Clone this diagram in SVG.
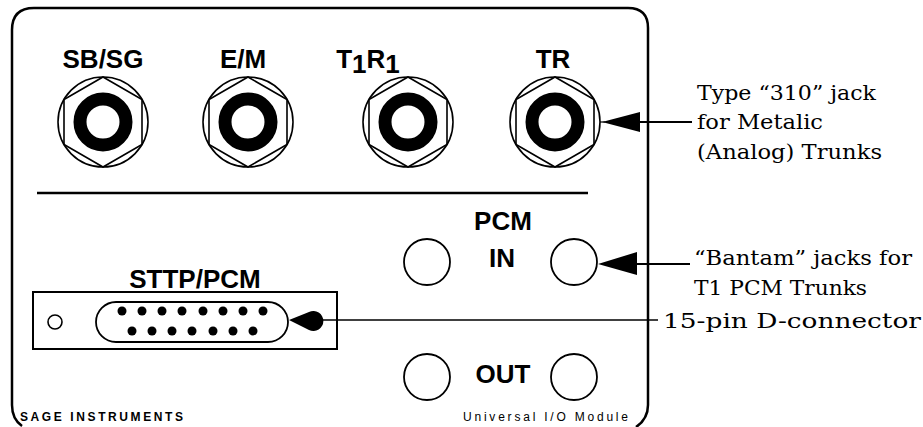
<svg xmlns="http://www.w3.org/2000/svg" xmlns:xlink="http://www.w3.org/1999/xlink" width="923" height="427" viewBox="0 0 923 427">
<style>
  .ln { fill: none; stroke: #000; }
  .lbl { font-family: "Liberation Sans", Arial, sans-serif; font-weight: bold; font-size: 26px; fill: #000; text-anchor: middle; }
  .note { font-family: "DejaVu Serif", "Liberation Serif", serif; font-size: 20px; fill: #000; }
  .foot { font-family: "Liberation Sans", Arial, sans-serif; font-size: 12px; fill: #000; }
  .bantam { fill: #fff; stroke: #000; stroke-width: 1.8; }
  .pin { fill: #000; }
</style>
<defs>
  <g id="jack310">
    <circle r="45" fill="#fff" stroke="#000" stroke-width="1.6"/>
    <polygon points="0,-45 39,-22.5 39,22.5 0,45 -39,22.5 -39,-22.5" fill="none" stroke="#000" stroke-width="1.6"/>
    <circle r="23" fill="none" stroke="#000" stroke-width="13"/>
  </g>
</defs>
<rect width="923" height="427" fill="#fff"/>

<g id="panel">
  <path class="ln" stroke-width="2.5" d="M 22 426 Q 12 419 12 405 L 12 30 Q 12 8 34 8 L 628 8 Q 648 8 648 28 L 648 405 Q 648 419 636 427"/>
  <line class="ln" stroke-width="2.5" x1="37" y1="193" x2="588" y2="193"/>
  <text class="foot" font-weight="bold" x="20" y="421" textLength="163" lengthAdjust="spacing">SAGE INSTRUMENTS</text>
  <text class="foot" x="463" y="421" textLength="165" lengthAdjust="spacing">Universal I/O Module</text>
</g>

<g id="jack-sbsg">
  <text class="lbl" x="103" y="68">SB/SG</text>
  <use xlink:href="#jack310" x="103" y="122"/>
</g>
<g id="jack-em">
  <text class="lbl" x="243" y="68">E/M</text>
  <use xlink:href="#jack310" x="248" y="122"/>
</g>
<g id="jack-t1r1">
  <text class="lbl" x="368" y="68" text-anchor="start">T<tspan dy="5">1</tspan><tspan dy="-5">R</tspan><tspan dy="5">1</tspan></text>
  <use xlink:href="#jack310" x="408" y="122"/>
</g>
<g id="jack-tr">
  <text class="lbl" x="553" y="68">TR</text>
  <use xlink:href="#jack310" x="555" y="122"/>
</g>

<g id="pcm">
  <text class="lbl" x="503" y="230">PCM</text>
  <text class="lbl" x="502" y="267">IN</text>
  <text class="lbl" x="503" y="383">OUT</text>
  <circle class="bantam" cx="427" cy="262" r="23"/>
  <circle class="bantam" cx="574" cy="262" r="23"/>
  <circle class="bantam" cx="427" cy="377" r="23"/>
  <circle class="bantam" cx="574" cy="377" r="23"/>
</g>

<g id="sttp">
  <text class="lbl" x="195" y="288">STTP/PCM</text>
  <rect class="ln" stroke-width="2" x="33" y="292" width="304" height="57"/>
  <circle class="ln" stroke-width="1.6" cx="55" cy="322" r="7"/>
  <rect class="ln" stroke-width="1.8" x="96" y="302" width="192" height="40" rx="20" ry="20"/>
  <g class="pin">
    <circle cx="122" cy="311" r="4.5"/><circle cx="142" cy="311" r="4.5"/><circle cx="162" cy="311" r="4.5"/><circle cx="182" cy="311" r="4.5"/>
    <circle cx="203" cy="311" r="4.5"/><circle cx="223" cy="311" r="4.5"/><circle cx="243" cy="311" r="4.5"/><circle cx="263" cy="311" r="4.5"/>
    <circle cx="132" cy="331" r="4.5"/><circle cx="152" cy="331" r="4.5"/><circle cx="172" cy="331" r="4.5"/><circle cx="192" cy="331" r="4.5"/>
    <circle cx="213" cy="331" r="4.5"/><circle cx="233" cy="331" r="4.5"/><circle cx="253" cy="331" r="4.5"/>
  </g>
</g>

<g id="connectors">
  <line class="ln" stroke-width="1.2" x1="600" y1="122" x2="605" y2="122"/>
  <polygon points="602,122 640,112 640,132" fill="#000"/>
  <line class="ln" stroke-width="2" x1="640" y1="122" x2="692" y2="122"/>
  <polygon points="598,264 637,252 637,275" fill="#000"/>
  <line class="ln" stroke-width="2" x1="637" y1="264" x2="690" y2="264"/>
  <path d="M 289 320 L 309 312 A 10 10 0 1 1 309 330 Z" fill="#000"/>
  <line class="ln" stroke-width="1.6" x1="320" y1="320" x2="658" y2="320"/>
</g>

<g id="notes">
  <text class="note" x="697" y="100" textLength="179" lengthAdjust="spacingAndGlyphs">Type “310” jack</text>
  <text class="note" x="697" y="129" textLength="126" lengthAdjust="spacingAndGlyphs">for Metalic</text>
  <text class="note" x="697" y="159" textLength="185" lengthAdjust="spacingAndGlyphs">(Analog) Trunks</text>
  <text class="note" x="694" y="265" textLength="218" lengthAdjust="spacingAndGlyphs">“Bantam” jacks for</text>
  <text class="note" x="694" y="295" textLength="173" lengthAdjust="spacingAndGlyphs">T1 PCM Trunks</text>
  <text class="note" x="663" y="328" font-size="23" textLength="258" lengthAdjust="spacingAndGlyphs">15-pin D-connector</text>
</g>
</svg>
